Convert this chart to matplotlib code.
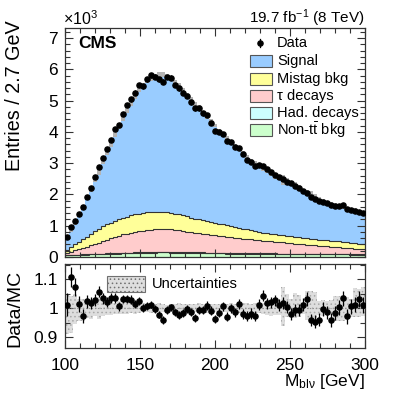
import numpy as np
import matplotlib
matplotlib.use("Agg")
import matplotlib.pyplot as plt
from matplotlib.patches import Rectangle
from matplotlib.lines import Line2D
from matplotlib.ticker import MultipleLocator

plt.rcParams['font.family'] = ['Liberation Sans', 'DejaVu Sans']
plt.rcParams['mathtext.fontset'] = 'custom'
plt.rcParams['mathtext.rm'] = 'Liberation Sans'
plt.rcParams['mathtext.it'] = 'Liberation Sans:italic'
plt.rcParams['hatch.color'] = '#a8a8a8'
plt.rcParams['hatch.linewidth'] = 0.6

# 75 bins from 100 to 300 GeV, values in units of 10^3 entries
edges = np.linspace(100, 300, 76)

data = [0.65, 0.97, 1.16, 1.37, 1.61, 1.93, 2.21, 2.55, 2.88, 3.15,
        3.44, 3.74, 4.08, 4.22, 4.57, 4.86, 5.04, 5.25, 5.50, 5.46,
        5.68, 5.81, 5.76, 5.68, 5.60, 5.75, 5.73, 5.50, 5.39, 5.25,
        5.15, 4.94, 4.75, 4.75, 4.59, 4.54, 4.29, 4.04, 3.98, 3.93,
        3.70, 3.68, 3.52, 3.50, 3.28, 3.10, 3.05, 2.92, 2.94, 2.91,
        2.80, 2.73, 2.62, 2.57, 2.48, 2.41, 2.35, 2.27, 2.19, 2.12,
        2.05, 1.93, 1.84, 1.80, 1.77, 1.73, 1.66, 1.64, 1.64, 1.66,
        1.52, 1.50, 1.48, 1.45, 1.40]

signal = [0.42, 0.57, 0.70, 0.87, 1.06, 1.24, 1.43, 1.63, 1.83, 2.06,
          2.30, 2.52, 2.76, 2.97, 3.18, 3.40, 3.59, 3.79, 3.96, 4.08,
          4.20, 4.29, 4.34, 4.37, 4.37, 4.34, 4.29, 4.21, 4.13, 4.01,
          3.88, 3.77, 3.67, 3.57, 3.45, 3.35, 3.22, 3.11, 2.99, 2.88,
          2.79, 2.70, 2.61, 2.52, 2.43, 2.32, 2.24, 2.17, 2.10, 2.03,
          1.98, 1.92, 1.85, 1.81, 1.76, 1.72, 1.70, 1.64, 1.57, 1.50,
          1.43, 1.41, 1.35, 1.31, 1.25, 1.22, 1.20, 1.16, 1.13, 1.12,
          1.08, 1.04, 1.01, 0.98, 0.96]

mistag = [0.10, 0.15, 0.19, 0.23, 0.27, 0.32, 0.36, 0.41, 0.45, 0.47,
          0.49, 0.50, 0.52, 0.53, 0.53, 0.54, 0.55, 0.56, 0.57, 0.57,
          0.57, 0.57, 0.57, 0.56, 0.56, 0.55, 0.54, 0.53, 0.51, 0.50,
          0.49, 0.46, 0.45, 0.44, 0.43, 0.42, 0.41, 0.40, 0.39, 0.38,
          0.37, 0.35, 0.34, 0.33, 0.32, 0.31, 0.30, 0.29, 0.27, 0.26,
          0.25, 0.24, 0.23, 0.23, 0.22, 0.22, 0.22, 0.21, 0.21, 0.21,
          0.21, 0.20, 0.20, 0.19, 0.19, 0.19, 0.19, 0.19, 0.19, 0.18,
          0.18, 0.18, 0.18, 0.17, 0.17]

tau = [0.06, 0.10, 0.14, 0.18, 0.21, 0.24, 0.28, 0.32, 0.35, 0.40,
       0.43, 0.48, 0.51, 0.55, 0.58, 0.61, 0.64, 0.65, 0.67, 0.69,
       0.70, 0.71, 0.72, 0.72, 0.72, 0.72, 0.72, 0.70, 0.69, 0.67,
       0.65, 0.65, 0.63, 0.61, 0.59, 0.58, 0.57, 0.55, 0.53, 0.52,
       0.51, 0.50, 0.49, 0.47, 0.46, 0.44, 0.44, 0.42, 0.41, 0.40,
       0.39, 0.38, 0.37, 0.37, 0.36, 0.35, 0.33, 0.32, 0.31, 0.29,
       0.28, 0.28, 0.27, 0.26, 0.25, 0.24, 0.23, 0.22, 0.21, 0.20,
       0.19, 0.19, 0.18, 0.17, 0.16]

had = [0.01, 0.01, 0.01, 0.01, 0.01] + [0.02] * 70

nontt = [0.05, 0.05, 0.06, 0.06, 0.07, 0.07, 0.08, 0.08, 0.09, 0.09,
         0.10, 0.10, 0.11, 0.11, 0.12, 0.12, 0.12, 0.13, 0.13, 0.13,
         0.14, 0.14, 0.14, 0.15, 0.15, 0.15, 0.14, 0.14, 0.14, 0.14,
         0.14, 0.13, 0.13, 0.13, 0.13, 0.12, 0.12, 0.12, 0.12, 0.12,
         0.11, 0.11, 0.11, 0.11, 0.11, 0.11, 0.10, 0.10, 0.10, 0.10,
         0.10, 0.10, 0.10, 0.09, 0.09, 0.09, 0.09, 0.09, 0.09, 0.09,
         0.09, 0.08, 0.08, 0.08, 0.08, 0.08, 0.08, 0.08, 0.08, 0.08,
         0.08, 0.07, 0.07, 0.07, 0.07]

ratio = [1.012, 1.107, 1.072, 1.014, 0.971, 1.023, 1.017, 1.029, 1.057, 1.034,
         1.022, 1.034, 1.034, 1.006, 1.031, 1.031, 1.029, 1.014, 1.023, 1.000,
         1.006, 1.012, 0.997, 0.977, 0.959, 0.993, 1.002, 0.985, 0.977, 0.983,
         0.997, 0.987, 0.965, 0.994, 0.994, 1.008, 0.991, 0.962, 0.983, 1.006,
         0.970, 0.999, 0.985, 1.014, 0.979, 0.973, 0.981, 0.973, 1.012, 1.043,
         1.017, 1.020, 1.026, 1.010, 1.016, 1.005, 0.979, 0.994, 0.994, 1.012,
         1.031, 0.959, 0.953, 0.959, 0.997, 0.985, 0.959, 0.983, 1.002, 1.034,
         0.971, 1.006, 1.012, 1.031, 1.010]

# relative MC uncertainty (up / down)
unc_up = [0.049, 0.043, 0.049, 0.031, 0.031, 0.022, 0.031, 0.020, 0.037, 0.026,
          0.026, 0.020, 0.018, 0.023, 0.018, 0.020, 0.017, 0.020, 0.015, 0.016,
          0.014, 0.015, 0.013, 0.016, 0.014, 0.012, 0.015, 0.013, 0.016, 0.014,
          0.013, 0.015, 0.014, 0.016, 0.013, 0.018, 0.014, 0.015, 0.013, 0.017,
          0.014, 0.016, 0.015, 0.018, 0.016, 0.017, 0.015, 0.018, 0.020, 0.017,
          0.025, 0.022, 0.026, 0.024, 0.072, 0.050, 0.030, 0.052, 0.045, 0.022,
          0.060, 0.058, 0.055, 0.025, 0.028, 0.024, 0.026, 0.042, 0.040, 0.044,
          0.038, 0.030, 0.070, 0.065, 0.072]
unc_dn = [0.090, 0.085, 0.056, 0.044, 0.044, 0.033, 0.038, 0.027, 0.038, 0.027,
          0.024, 0.025, 0.020, 0.022, 0.020, 0.020, 0.018, 0.022, 0.016, 0.015,
          0.014, 0.016, 0.013, 0.015, 0.014, 0.013, 0.014, 0.015, 0.014, 0.013,
          0.016, 0.014, 0.013, 0.015, 0.014, 0.016, 0.015, 0.014, 0.016, 0.015,
          0.014, 0.015, 0.016, 0.017, 0.016, 0.015, 0.017, 0.016, 0.018, 0.020,
          0.025, 0.026, 0.024, 0.025, 0.062, 0.032, 0.030, 0.035, 0.030, 0.020,
          0.040, 0.042, 0.038, 0.025, 0.026, 0.025, 0.024, 0.045, 0.044, 0.046,
          0.042, 0.030, 0.032, 0.030, 0.028]

comp_names = ['Non-t$\\bar{\\mathregular{t}}$ bkg', 'Had. decays', '\u03c4 decays',
              'Mistag bkg', 'Signal']
comp_colors = ['#ccffcc', '#ccffff', '#ffcccc', '#ffff99', '#99ccff']

centers = 0.5 * (edges[:-1] + edges[1:])
binw = edges[1] - edges[0]
data = np.array(data)
ratio = np.array(ratio)
unc_up = np.array(unc_up)
unc_dn = np.array(unc_dn)

W, H = 407, 396
fig = plt.figure(figsize=(W / 100, H / 100), dpi=100)


def fx(px):
    return px / W


def fy(py):
    return 1 - py / H


ax = fig.add_axes([fx(65), fy(257), fx(365) - fx(65), fy(28) - fy(257)])
rax = fig.add_axes([fx(65), fy(348), fx(365) - fx(65), fy(264) - fy(348)])

# stacked MC
stack = [np.array(nontt), np.array(had), np.array(tau), np.array(mistag), np.array(signal)]
base = np.zeros(len(centers))
for vals, col in zip(stack, comp_colors):
    top = base + vals
    ax.stairs(top, edges, baseline=base, fill=True, color=col, lw=0)
    base = top
base = np.zeros(len(centers))
for vals in stack[:-1]:
    base = base + vals
    ax.stairs(base, edges, baseline=None, color='#333333', lw=0.8)
mc = base + stack[-1]

# MC uncertainty band
ax.stairs(mc * (1 + unc_up), edges, baseline=mc * (1 - unc_dn), fill=True,
          color='#b4b4b4', lw=0)

derr = np.sqrt(data * 1000) / 1000
ax.errorbar(centers, data, yerr=derr, fmt='o', ms=3.7, color='k',
            elinewidth=0.9, capsize=0, zorder=5)

ax.set_xlim(100, 300)
ax.set_ylim(0, 7.32)
ax.xaxis.set_major_locator(MultipleLocator(50))
ax.xaxis.set_minor_locator(MultipleLocator(10))
ax.yaxis.set_major_locator(MultipleLocator(1))
ax.yaxis.set_minor_locator(MultipleLocator(0.2))
ax.tick_params(labelbottom=False)

# ratio panel
rax.bar(centers, unc_up + unc_dn, bottom=1 - unc_dn, width=binw,
        color='#dedede', hatch='....', lw=0)
rax.axhline(1, color='#909090', lw=0.8, ls=':')
rerr = ratio / np.sqrt(data * 1000)
rax.errorbar(centers, ratio, yerr=rerr, fmt='o', ms=3.7, color='k',
             elinewidth=0.9, capsize=0, zorder=5)
rax.set_xlim(100, 300)
rax.set_ylim(0.862, 1.152)
rax.xaxis.set_major_locator(MultipleLocator(50))
rax.xaxis.set_minor_locator(MultipleLocator(10))
rax.yaxis.set_minor_locator(MultipleLocator(0.05))
rax.set_yticks([0.9, 1.0, 1.1])
rax.set_yticklabels(['0.9', '1', '1.1'])

for a in (ax, rax):
    a.tick_params(which='both', direction='in', top=True, right=True,
                  labelsize=12.5, pad=5, width=0.8, color='#333333')
    a.tick_params(which='major', length=6)
    a.tick_params(which='minor', length=3.5)
    for s in a.spines.values():
        s.set_linewidth(0.9)
        s.set_color('#333333')
rax.tick_params(axis='x', pad=7)

# texts
fig.text(fx(15), fy(20), 'Entries / 2.7 GeV', rotation=90, ha='center',
         va='top', fontsize=14.2)
fig.text(fx(15), fy(308), 'Data/MC', rotation=90, ha='center', va='center',
         fontsize=14)
fig.text(fx(365), fy(386), '$\\mathregular{M_{bl\\nu}}$ [GeV]', ha='right',
         va='baseline', fontsize=12.5)
fig.text(fx(63), fy(25), '\u00d710$^{\\mathregular{3}}$', ha='left',
         va='baseline', fontsize=11.5)
fig.text(fx(365), fy(23), '19.7 fb$^{\\mathregular{-1}}$ (8 TeV)', ha='right',
         va='baseline', fontsize=11)
fig.text(fx(78), fy(48), 'CMS', ha='left', va='baseline', fontsize=12.5,
         fontweight='bold')

# legend, drawn by hand
fig.add_artist(Line2D([fx(260), fx(260)], [fy(39), fy(47)], color='k', lw=0.9))
fig.add_artist(Line2D([fx(260)], [fy(43)], marker='o', ms=3.7, color='k'))
fig.text(fx(277), fy(43), 'Data', ha='left', va='center', fontsize=10.5)
rows = [61, 79, 96, 113, 130]
for yy, name, col in zip(rows, comp_names[::-1], comp_colors[::-1]):
    fig.add_artist(Rectangle((fx(250), fy(yy + 6)), fx(22), fy(yy - 6) - fy(yy + 6),
                             facecolor=col, edgecolor='#555555', lw=0.8))
    fig.text(fx(277), fy(yy), name, ha='left', va='center', fontsize=10.5)

fig.add_artist(Rectangle((fx(107), fy(292)), fx(38), fy(276) - fy(292),
                         facecolor='#dedede', hatch='....', edgecolor='#707070',
                         lw=0.8))
fig.text(fx(152), fy(284), 'Uncertainties', ha='left', va='center',
         fontsize=10.5)

fig.savefig('out.png', dpi=100)
